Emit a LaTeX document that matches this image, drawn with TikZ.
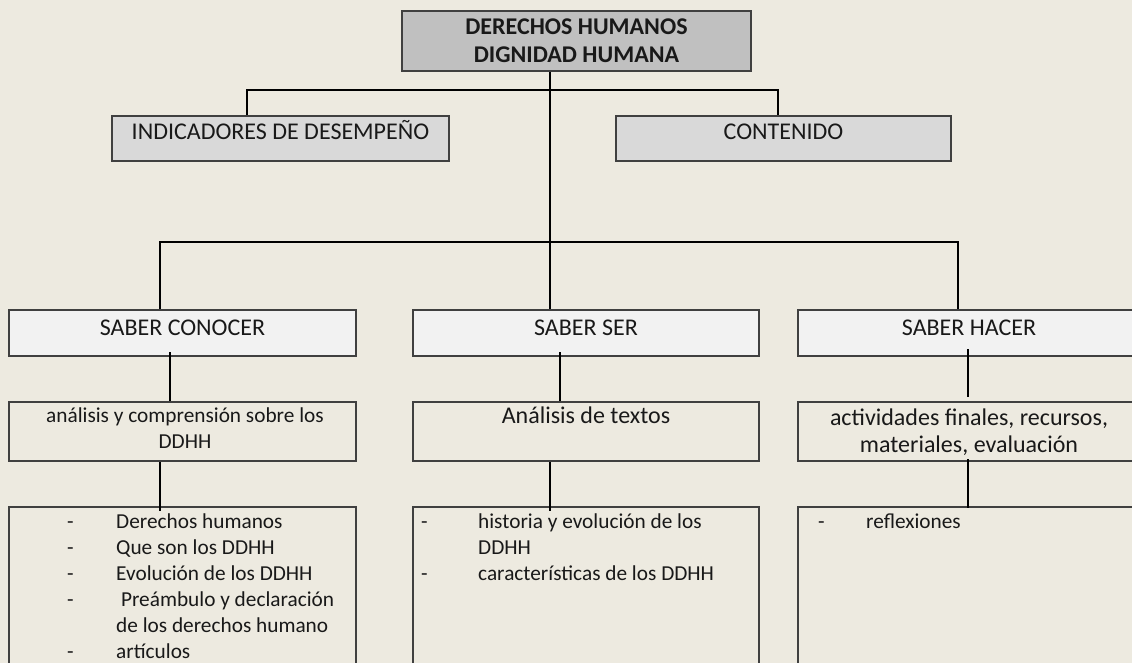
\documentclass[tikz,border=0pt]{standalone}
\usepackage{fontspec}
\setmainfont{Carlito}
\usetikzlibrary{calc}

\definecolor{paper}{RGB}{237,234,224}
\definecolor{boxline}{RGB}{64,64,64}
\definecolor{headgray}{RGB}{192,192,192}
\definecolor{midgray}{RGB}{217,217,217}
\definecolor{palegray}{RGB}{242,242,242}

\tikzset{
  box/.style={draw=boxline, line width=2pt, inner sep=0pt, rectangle},
  txt/.style={inner sep=0pt, font=\fontsize{24}{26}\selectfont, text=black!90},
  small/.style={inner sep=0pt, font=\fontsize{21.3}{26}\selectfont, text=black!90},
  link/.style={line width=2.8pt, black}
}

\begin{document}
\begin{tikzpicture}[x=1pt,y=-1pt]
		%%%%% START %%%%%
		\useasboundingbox (0,0) rectangle (1132,663);
		\clip (0,0) rectangle (1132,663);
		\fill[paper] (0,0) rectangle (1132,663);
		
		% boxes
		\node[box, fill=headgray, minimum width=349pt, minimum height=60pt] (dh) at (576.5,41) {};
		\node[box, fill=midgray, minimum width=337pt, minimum height=45pt] (indic) at (280.5,138.5) {};
		\node[box, fill=midgray, minimum width=335pt, minimum height=45pt] (conten) at (783.5,138.5) {};
		
		\node[box, fill=palegray, minimum width=347pt, minimum height=46pt] (sconocer) at (182.5,333) {};
		\node[box, fill=palegray, minimum width=346pt, minimum height=46pt] (sser) at (586,333) {};
		\node[box, fill=palegray, minimum width=342pt, minimum height=46pt] (shacer) at (969,333) {};
		
		\node[box, minimum width=347pt, minimum height=59pt] (qconocer) at (182.5,431.5) {};
		\node[box, minimum width=346pt, minimum height=59pt] (qser) at (586,431.5) {};
		\node[box, minimum width=342pt, minimum height=59pt] (qhacer) at (969,431.5) {};
		
		\node[box, minimum width=347pt, minimum height=200pt] (lconocer) at (182.5,607) {};
		\node[box, minimum width=346pt, minimum height=200pt] (lser) at (586,607) {};
		\node[box, minimum width=342pt, minimum height=200pt] (lhacer) at (969,607) {};
		
		% connectors
		\draw[link] ([xshift=-33.5pt]indic.north) |- ([yshift=-18pt]dh.south) -| ([xshift=-5.5pt]conten.north);
		\draw[link] ([xshift=-26.5pt]dh.south) -- ([xshift=-36pt]sser.north);
		\coordinate (hub) at (550,242);
		\draw[link] ([xshift=-22.5pt]sconocer.north) |- (hub) -| ([xshift=-11pt]shacer.north);
		
		\draw[link] ([xshift=-12.5pt,yshift=5pt]sconocer.south) -- ([xshift=-12.5pt]qconocer.north);
		\draw[link] ([xshift=-26pt,yshift=5pt]sser.south) -- ([xshift=-26pt]qser.north);
		\draw[link] ([xshift=-1pt,yshift=8pt]shacer.south) -- ([xshift=-1pt,yshift=4pt]qhacer.north);
		
		\draw[link] ([xshift=-22.5pt]qconocer.south) -- ([xshift=-22.5pt,yshift=-5pt]lconocer.north);
		\draw[link] ([xshift=-36pt]qser.south) -- ([xshift=-36pt,yshift=-5pt]lser.north);
		\draw[link] ([xshift=-1pt,yshift=3pt]qhacer.south) -- ([xshift=-1pt,yshift=-2pt]lhacer.north);
		
		% texts
		\node[txt, anchor=base, font=\fontsize{24}{28}\selectfont\bfseries] (tdh) at (576.5,35)
		  {\begin{tabular}[t]{@{}c@{}}DERECHOS HUMANOS\\ DIGNIDAD HUMANA\end{tabular}};
		\node[txt, anchor=base] (tindic) at (280.5,140) {INDICADORES DE DESEMPEÑO};
		\node[txt, anchor=base] (tconten) at (783.5,140) {CONTENIDO};
		
		\node[txt, anchor=base] (tsconocer) at (182.5,335) {SABER CONOCER};
		\node[txt, anchor=base] (tsser) at (586,335) {SABER SER};
		\node[txt, anchor=base] (tshacer) at (969,335) {SABER HACER};
		
		\node[small, anchor=base] (tqconocer) at (185,422)
		  {\begin{tabular}[t]{@{}c@{}}análisis y comprensión sobre los\\ DDHH\end{tabular}};
		\node[txt, anchor=base] (tqser) at (586,423) {Análisis de textos};
		\node[txt, anchor=base, font=\fontsize{24}{27}\selectfont] (tqhacer) at (969,425)
		  {\begin{tabular}[t]{@{}c@{}}actividades finales, recursos,\\ materiales, evaluación\end{tabular}};
		
		\node[small, anchor=base west] (tlconocer) at (67,528)
		  {\begin{tabular}[t]{@{}p{49pt}@{}l@{}}
		   - & Derechos humanos\\
		   - & Que son los DDHH\\
		   - & Evolución de los DDHH\\
		   - & \ Preámbulo y declaración\\
		     & de los derechos humano\\
		   - & artículos
		  \end{tabular}};
		\node[small, anchor=base west] (tlser) at (421,528)
		  {\begin{tabular}[t]{@{}p{57pt}@{}l@{}}
		   - & historia y evolución de los\\
		     & DDHH\\
		   - & características de los DDHH
		  \end{tabular}};
		\node[small, anchor=base west] (tlhacer) at (818,528)
		  {\begin{tabular}[t]{@{}p{48pt}@{}l@{}}
		   - & reflexiones
		  \end{tabular}};
		
		%%%%% END %%%%%
\end{tikzpicture}
\end{document}
